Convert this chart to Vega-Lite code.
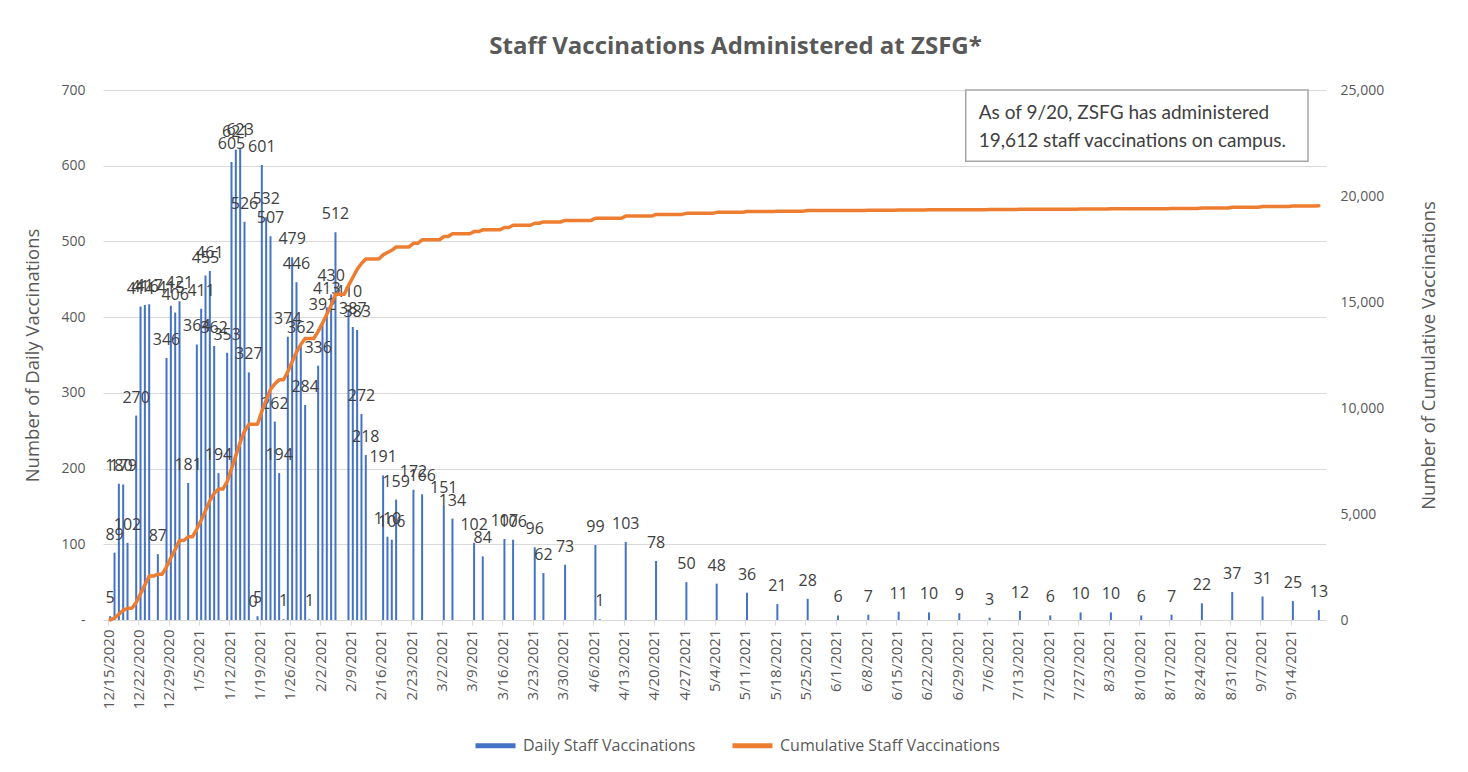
{
  "$schema": "https://vega.github.io/schema/vega-lite/v6.json",
  "width": 1223,
  "height": 530,
  "autosize": {"type": "none"},
  "padding": {"left": 103, "top": 90, "right": 142, "bottom": 152},
  "background": "white",
  "title": {
    "text": "Staff Vaccinations Administered at ZSFG*",
    "font": "Open Sans",
    "fontSize": 24,
    "fontWeight": "bold",
    "color": "#595959",
    "anchor": "middle",
    "dx": 21,
    "offset": 24
  },
  "datasets": {
    "daily": [
      {"date": "2020-12-15", "daily": 5},
      {"date": "2020-12-16", "daily": 89},
      {"date": "2020-12-17", "daily": 180},
      {"date": "2020-12-18", "daily": 179},
      {"date": "2020-12-19", "daily": 102},
      {"date": "2020-12-21", "daily": 270},
      {"date": "2020-12-22", "daily": 414},
      {"date": "2020-12-23", "daily": 416},
      {"date": "2020-12-24", "daily": 417},
      {"date": "2020-12-26", "daily": 87},
      {"date": "2020-12-28", "daily": 346},
      {"date": "2020-12-29", "daily": 415},
      {"date": "2020-12-30", "daily": 406},
      {"date": "2020-12-31", "daily": 421},
      {"date": "2021-01-02", "daily": 181},
      {"date": "2021-01-04", "daily": 364},
      {"date": "2021-01-05", "daily": 411},
      {"date": "2021-01-06", "daily": 455},
      {"date": "2021-01-07", "daily": 461},
      {"date": "2021-01-08", "daily": 362},
      {"date": "2021-01-09", "daily": 194},
      {"date": "2021-01-11", "daily": 353},
      {"date": "2021-01-12", "daily": 605},
      {"date": "2021-01-13", "daily": 621},
      {"date": "2021-01-14", "daily": 623},
      {"date": "2021-01-15", "daily": 526},
      {"date": "2021-01-16", "daily": 327},
      {"date": "2021-01-17", "daily": 0},
      {"date": "2021-01-18", "daily": 5},
      {"date": "2021-01-19", "daily": 601},
      {"date": "2021-01-20", "daily": 532},
      {"date": "2021-01-21", "daily": 507},
      {"date": "2021-01-22", "daily": 262},
      {"date": "2021-01-23", "daily": 194},
      {"date": "2021-01-24", "daily": 1},
      {"date": "2021-01-25", "daily": 374},
      {"date": "2021-01-26", "daily": 479},
      {"date": "2021-01-27", "daily": 446},
      {"date": "2021-01-28", "daily": 362},
      {"date": "2021-01-29", "daily": 284},
      {"date": "2021-01-30", "daily": 1},
      {"date": "2021-02-01", "daily": 336},
      {"date": "2021-02-02", "daily": 392},
      {"date": "2021-02-03", "daily": 413},
      {"date": "2021-02-04", "daily": 430},
      {"date": "2021-02-05", "daily": 512},
      {"date": "2021-02-08", "daily": 410},
      {"date": "2021-02-09", "daily": 387},
      {"date": "2021-02-10", "daily": 383},
      {"date": "2021-02-11", "daily": 272},
      {"date": "2021-02-12", "daily": 218},
      {"date": "2021-02-16", "daily": 191},
      {"date": "2021-02-17", "daily": 110},
      {"date": "2021-02-18", "daily": 106},
      {"date": "2021-02-19", "daily": 159},
      {"date": "2021-02-23", "daily": 172},
      {"date": "2021-02-25", "daily": 166},
      {"date": "2021-03-02", "daily": 151},
      {"date": "2021-03-04", "daily": 134},
      {"date": "2021-03-09", "daily": 102},
      {"date": "2021-03-11", "daily": 84},
      {"date": "2021-03-16", "daily": 107},
      {"date": "2021-03-18", "daily": 106},
      {"date": "2021-03-23", "daily": 96},
      {"date": "2021-03-25", "daily": 62},
      {"date": "2021-03-30", "daily": 73},
      {"date": "2021-04-06", "daily": 99},
      {"date": "2021-04-07", "daily": 1},
      {"date": "2021-04-13", "daily": 103},
      {"date": "2021-04-20", "daily": 78},
      {"date": "2021-04-27", "daily": 50},
      {"date": "2021-05-04", "daily": 48},
      {"date": "2021-05-11", "daily": 36},
      {"date": "2021-05-18", "daily": 21},
      {"date": "2021-05-25", "daily": 28},
      {"date": "2021-06-01", "daily": 6},
      {"date": "2021-06-08", "daily": 7},
      {"date": "2021-06-15", "daily": 11},
      {"date": "2021-06-22", "daily": 10},
      {"date": "2021-06-29", "daily": 9},
      {"date": "2021-07-06", "daily": 3},
      {"date": "2021-07-13", "daily": 12},
      {"date": "2021-07-20", "daily": 6},
      {"date": "2021-07-27", "daily": 10},
      {"date": "2021-08-03", "daily": 10},
      {"date": "2021-08-10", "daily": 6},
      {"date": "2021-08-17", "daily": 7},
      {"date": "2021-08-24", "daily": 22},
      {"date": "2021-08-31", "daily": 37},
      {"date": "2021-09-07", "daily": 31},
      {"date": "2021-09-14", "daily": 25},
      {"date": "2021-09-20", "daily": 13}
    ],
    "cumulative": [
      {"date": "2020-12-15", "cum": 5},
      {"date": "2020-12-16", "cum": 94},
      {"date": "2020-12-17", "cum": 274},
      {"date": "2020-12-18", "cum": 453},
      {"date": "2020-12-19", "cum": 555},
      {"date": "2020-12-20", "cum": 555},
      {"date": "2020-12-21", "cum": 825},
      {"date": "2020-12-22", "cum": 1239},
      {"date": "2020-12-23", "cum": 1655},
      {"date": "2020-12-24", "cum": 2072},
      {"date": "2020-12-25", "cum": 2072},
      {"date": "2020-12-26", "cum": 2159},
      {"date": "2020-12-27", "cum": 2159},
      {"date": "2020-12-28", "cum": 2505},
      {"date": "2020-12-29", "cum": 2920},
      {"date": "2020-12-30", "cum": 3326},
      {"date": "2020-12-31", "cum": 3747},
      {"date": "2021-01-01", "cum": 3747},
      {"date": "2021-01-02", "cum": 3928},
      {"date": "2021-01-03", "cum": 3928},
      {"date": "2021-01-04", "cum": 4292},
      {"date": "2021-01-05", "cum": 4703},
      {"date": "2021-01-06", "cum": 5158},
      {"date": "2021-01-07", "cum": 5619},
      {"date": "2021-01-08", "cum": 5981},
      {"date": "2021-01-09", "cum": 6175},
      {"date": "2021-01-10", "cum": 6175},
      {"date": "2021-01-11", "cum": 6528},
      {"date": "2021-01-12", "cum": 7133},
      {"date": "2021-01-13", "cum": 7754},
      {"date": "2021-01-14", "cum": 8377},
      {"date": "2021-01-15", "cum": 8903},
      {"date": "2021-01-16", "cum": 9230},
      {"date": "2021-01-17", "cum": 9230},
      {"date": "2021-01-18", "cum": 9235},
      {"date": "2021-01-19", "cum": 9836},
      {"date": "2021-01-20", "cum": 10368},
      {"date": "2021-01-21", "cum": 10875},
      {"date": "2021-01-22", "cum": 11137},
      {"date": "2021-01-23", "cum": 11331},
      {"date": "2021-01-24", "cum": 11332},
      {"date": "2021-01-25", "cum": 11706},
      {"date": "2021-01-26", "cum": 12185},
      {"date": "2021-01-27", "cum": 12631},
      {"date": "2021-01-28", "cum": 12993},
      {"date": "2021-01-29", "cum": 13277},
      {"date": "2021-01-30", "cum": 13278},
      {"date": "2021-01-31", "cum": 13278},
      {"date": "2021-02-01", "cum": 13614},
      {"date": "2021-02-02", "cum": 14006},
      {"date": "2021-02-03", "cum": 14419},
      {"date": "2021-02-04", "cum": 14849},
      {"date": "2021-02-05", "cum": 15361},
      {"date": "2021-02-07", "cum": 15361},
      {"date": "2021-02-08", "cum": 15771},
      {"date": "2021-02-09", "cum": 16158},
      {"date": "2021-02-10", "cum": 16541},
      {"date": "2021-02-11", "cum": 16813},
      {"date": "2021-02-12", "cum": 17031},
      {"date": "2021-02-15", "cum": 17031},
      {"date": "2021-02-16", "cum": 17222},
      {"date": "2021-02-17", "cum": 17332},
      {"date": "2021-02-18", "cum": 17438},
      {"date": "2021-02-19", "cum": 17597},
      {"date": "2021-02-22", "cum": 17597},
      {"date": "2021-02-23", "cum": 17769},
      {"date": "2021-02-24", "cum": 17769},
      {"date": "2021-02-25", "cum": 17935},
      {"date": "2021-03-01", "cum": 17935},
      {"date": "2021-03-02", "cum": 18086},
      {"date": "2021-03-03", "cum": 18086},
      {"date": "2021-03-04", "cum": 18220},
      {"date": "2021-03-08", "cum": 18220},
      {"date": "2021-03-09", "cum": 18322},
      {"date": "2021-03-10", "cum": 18322},
      {"date": "2021-03-11", "cum": 18406},
      {"date": "2021-03-15", "cum": 18406},
      {"date": "2021-03-16", "cum": 18513},
      {"date": "2021-03-17", "cum": 18513},
      {"date": "2021-03-18", "cum": 18619},
      {"date": "2021-03-22", "cum": 18619},
      {"date": "2021-03-23", "cum": 18715},
      {"date": "2021-03-24", "cum": 18715},
      {"date": "2021-03-25", "cum": 18777},
      {"date": "2021-03-29", "cum": 18777},
      {"date": "2021-03-30", "cum": 18850},
      {"date": "2021-04-05", "cum": 18850},
      {"date": "2021-04-06", "cum": 18949},
      {"date": "2021-04-07", "cum": 18950},
      {"date": "2021-04-12", "cum": 18950},
      {"date": "2021-04-13", "cum": 19053},
      {"date": "2021-04-19", "cum": 19053},
      {"date": "2021-04-20", "cum": 19131},
      {"date": "2021-04-26", "cum": 19131},
      {"date": "2021-04-27", "cum": 19181},
      {"date": "2021-05-03", "cum": 19181},
      {"date": "2021-05-04", "cum": 19229},
      {"date": "2021-05-10", "cum": 19229},
      {"date": "2021-05-11", "cum": 19265},
      {"date": "2021-05-17", "cum": 19265},
      {"date": "2021-05-18", "cum": 19286},
      {"date": "2021-05-24", "cum": 19286},
      {"date": "2021-05-25", "cum": 19314},
      {"date": "2021-05-31", "cum": 19314},
      {"date": "2021-06-01", "cum": 19320},
      {"date": "2021-06-07", "cum": 19320},
      {"date": "2021-06-08", "cum": 19327},
      {"date": "2021-06-14", "cum": 19327},
      {"date": "2021-06-15", "cum": 19338},
      {"date": "2021-06-21", "cum": 19338},
      {"date": "2021-06-22", "cum": 19348},
      {"date": "2021-06-28", "cum": 19348},
      {"date": "2021-06-29", "cum": 19357},
      {"date": "2021-07-05", "cum": 19357},
      {"date": "2021-07-06", "cum": 19360},
      {"date": "2021-07-12", "cum": 19360},
      {"date": "2021-07-13", "cum": 19372},
      {"date": "2021-07-19", "cum": 19372},
      {"date": "2021-07-20", "cum": 19378},
      {"date": "2021-07-26", "cum": 19378},
      {"date": "2021-07-27", "cum": 19388},
      {"date": "2021-08-02", "cum": 19388},
      {"date": "2021-08-03", "cum": 19398},
      {"date": "2021-08-09", "cum": 19398},
      {"date": "2021-08-10", "cum": 19404},
      {"date": "2021-08-16", "cum": 19404},
      {"date": "2021-08-17", "cum": 19411},
      {"date": "2021-08-23", "cum": 19411},
      {"date": "2021-08-24", "cum": 19433},
      {"date": "2021-08-30", "cum": 19433},
      {"date": "2021-08-31", "cum": 19470},
      {"date": "2021-09-06", "cum": 19470},
      {"date": "2021-09-07", "cum": 19501},
      {"date": "2021-09-13", "cum": 19501},
      {"date": "2021-09-14", "cum": 19526},
      {"date": "2021-09-19", "cum": 19526},
      {"date": "2021-09-20", "cum": 19539}
    ],
    "notebox": [
      {"date": "2021-07-01", "date2": "2021-09-18", "top": 700, "bottom": 606}
    ],
    "notetext": [
      {"date": "2021-07-04", "value": 669, "text": "As of 9/20, ZSFG has administered"},
      {"date": "2021-07-04", "value": 633, "text": "19,612 staff vaccinations on campus."}
    ]
  },
  "encoding": {
    "x": {
      "field": "date",
      "type": "temporal",
      "scale": {
        "type": "utc",
        "domain": [
          {"year": 2020, "month": 12, "date": 15, "utc": true},
          {"year": 2021, "month": 9, "date": 21, "utc": true}
        ]
      },
      "axis": {
        "title": null,
        "grid": false,
        "format": "%-m/%-d/%Y",
        "labelAngle": -90,
        "labelFontSize": 15,
        "labelColor": "#595959",
        "labelPadding": 4,
        "labelFlush": false,
        "labelOverlap": false,
        "tickColor": "#d9d9d9",
        "tickSize": 5,
        "domainColor": "#d9d9d9",
        "domainWidth": 1,
        "values": [
          {"year": 2020, "month": 12, "date": 15, "utc": true},
          {"year": 2020, "month": 12, "date": 22, "utc": true},
          {"year": 2020, "month": 12, "date": 29, "utc": true},
          {"year": 2021, "month": 1, "date": 5, "utc": true},
          {"year": 2021, "month": 1, "date": 12, "utc": true},
          {"year": 2021, "month": 1, "date": 19, "utc": true},
          {"year": 2021, "month": 1, "date": 26, "utc": true},
          {"year": 2021, "month": 2, "date": 2, "utc": true},
          {"year": 2021, "month": 2, "date": 9, "utc": true},
          {"year": 2021, "month": 2, "date": 16, "utc": true},
          {"year": 2021, "month": 2, "date": 23, "utc": true},
          {"year": 2021, "month": 3, "date": 2, "utc": true},
          {"year": 2021, "month": 3, "date": 9, "utc": true},
          {"year": 2021, "month": 3, "date": 16, "utc": true},
          {"year": 2021, "month": 3, "date": 23, "utc": true},
          {"year": 2021, "month": 3, "date": 30, "utc": true},
          {"year": 2021, "month": 4, "date": 6, "utc": true},
          {"year": 2021, "month": 4, "date": 13, "utc": true},
          {"year": 2021, "month": 4, "date": 20, "utc": true},
          {"year": 2021, "month": 4, "date": 27, "utc": true},
          {"year": 2021, "month": 5, "date": 4, "utc": true},
          {"year": 2021, "month": 5, "date": 11, "utc": true},
          {"year": 2021, "month": 5, "date": 18, "utc": true},
          {"year": 2021, "month": 5, "date": 25, "utc": true},
          {"year": 2021, "month": 6, "date": 1, "utc": true},
          {"year": 2021, "month": 6, "date": 8, "utc": true},
          {"year": 2021, "month": 6, "date": 15, "utc": true},
          {"year": 2021, "month": 6, "date": 22, "utc": true},
          {"year": 2021, "month": 6, "date": 29, "utc": true},
          {"year": 2021, "month": 7, "date": 6, "utc": true},
          {"year": 2021, "month": 7, "date": 13, "utc": true},
          {"year": 2021, "month": 7, "date": 20, "utc": true},
          {"year": 2021, "month": 7, "date": 27, "utc": true},
          {"year": 2021, "month": 8, "date": 3, "utc": true},
          {"year": 2021, "month": 8, "date": 10, "utc": true},
          {"year": 2021, "month": 8, "date": 17, "utc": true},
          {"year": 2021, "month": 8, "date": 24, "utc": true},
          {"year": 2021, "month": 8, "date": 31, "utc": true},
          {"year": 2021, "month": 9, "date": 7, "utc": true},
          {"year": 2021, "month": 9, "date": 14, "utc": true}
        ]
      }
    }
  },
  "layer": [
    {
      "layer": [
        {
          "data": {"name": "daily"},
          "mark": {"type": "bar", "width": 2, "xOffset": 2.2},
          "encoding": {
            "y": {
              "field": "daily",
              "type": "quantitative",
              "scale": {"domain": [0, 700]},
              "axis": {
                "title": "Number of Daily Vaccinations",
                "titleFontSize": 18.5,
                "titleFontWeight": "normal",
                "titleColor": "#595959",
                "titlePadding": 18,
                "values": [0, 100, 200, 300, 400, 500, 600, 700],
                "labelExpr": "datum.value === 0 ? '-' : datum.label",
                "labelFontSize": 14,
                "labelColor": "#595959",
                "labelPadding": 18,
                "grid": true,
                "gridColor": "#d9d9d9",
                "domain": false,
                "ticks": false
              }
            },
            "color": {
              "datum": "Daily Staff Vaccinations",
              "scale": {
                "domain": ["Daily Staff Vaccinations", "Cumulative Staff Vaccinations"],
                "range": ["#4472C4", "#ED7D31"]
              },
              "legend": {
                "title": null,
                "orient": "none",
                "direction": "horizontal",
                "legendX": 370,
                "legendY": 633,
                "symbolType": "stroke",
                "symbolSize": 1600,
                "symbolStrokeWidth": 5,
                "labelFontSize": 16,
                "labelLimit": 400,
                "labelColor": "#595959",
                "labelOffset": 5,
                "columnPadding": 26,
                "encode": {
                  "symbols": {
                    "update": {
                      "stroke": {"scale": "color", "field": "value"},
                      "strokeWidth": {"value": 5}
                    }
                  }
                }
              }
            }
          }
        },
        {
          "data": {"name": "daily"},
          "mark": {
            "type": "text",
            "xOffset": 2.2,
            "dy": -13,
            "baseline": "alphabetic",
            "align": "center",
            "fontSize": 16,
            "color": "#404040"
          },
          "encoding": {
            "y": {"field": "daily", "type": "quantitative"},
            "text": {"field": "daily", "type": "quantitative"}
          }
        },
        {
          "data": {"name": "notebox"},
          "mark": {"type": "rect", "fill": "white", "stroke": "#a6a6a6", "strokeWidth": 1.5},
          "encoding": {
            "x2": {"field": "date2"},
            "y": {"field": "top", "type": "quantitative"},
            "y2": {"field": "bottom"}
          }
        },
        {
          "data": {"name": "notetext"},
          "mark": {
            "type": "text",
            "align": "left",
            "baseline": "middle",
            "font": "Lato",
            "fontSize": 19,
            "color": "#404040"
          },
          "encoding": {
            "y": {"field": "value", "type": "quantitative"},
            "text": {"field": "text", "type": "nominal"}
          }
        }
      ]
    },
    {
      "data": {"name": "cumulative"},
      "mark": {"type": "line", "strokeWidth": 3.5, "xOffset": 2.2, "strokeJoin": "round", "strokeCap": "round"},
      "encoding": {
        "y": {
          "field": "cum",
          "type": "quantitative",
          "scale": {"domain": [0, 25000]},
          "axis": {
            "orient": "right",
            "title": "Number of Cumulative Vaccinations",
            "titleAngle": -90,
            "titleFontSize": 18.5,
            "titleFontWeight": "normal",
            "titleColor": "#595959",
            "titlePadding": 55,
            "values": [0, 5000, 10000, 15000, 20000, 25000],
            "labelExpr": "format(datum.value, ',')",
            "labelFontSize": 14,
            "labelColor": "#595959",
            "labelPadding": 14,
            "grid": false,
            "domain": false,
            "ticks": false
          }
        },
        "color": {"datum": "Cumulative Staff Vaccinations"}
      }
    }
  ],
  "resolve": {"scale": {"y": "independent"}},
  "config": {
    "font": "Open Sans",
    "view": {"stroke": null}
  }
}
